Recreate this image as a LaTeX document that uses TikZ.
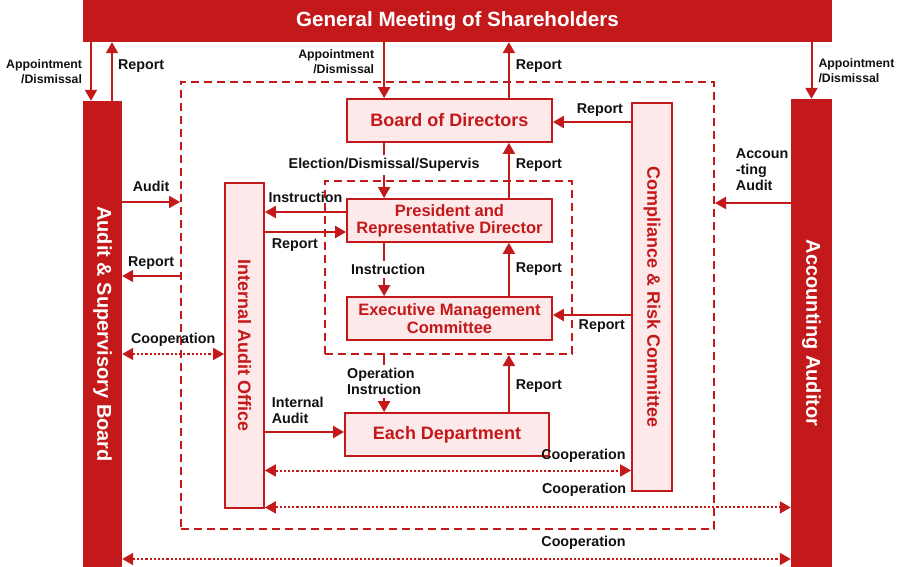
\documentclass[tikz,border=0pt]{standalone}
\usepackage{fontspec}
\setmainfont{Liberation Sans}
\usepackage{graphicx}
\usepackage{tikz}
\usetikzlibrary{arrows.meta,positioning}
\definecolor{cgRed}{HTML}{C4191B}
\definecolor{cgPink}{HTML}{FDE9E9}
\definecolor{cgInk}{HTML}{111111}
\tikzset{
  cg diagram/.style={x=1pt, y=-1pt, font=\bfseries, text=cgInk},
  cg bar/.style={fill=cgRed, text=white, inner sep=0pt,
    font=\bfseries\fontsize{20}{24}\selectfont},
  cg box/.style={draw=cgRed, fill=cgPink, line width=1.8pt, text=cgRed,
    inner sep=0pt, align=center, font=\bfseries\fontsize{16.5}{17.5}\selectfont},
  cg big box/.style={cg box, font=\bfseries\fontsize{18}{21}\selectfont},
  cg frame/.style={draw=cgRed, line width=2pt, dash pattern=on 8pt off 5pt,
    inner sep=0pt},
  cg arrow/.style={-{Triangle[length=11pt,width=12pt]}, draw=cgRed, line width=2pt},
  cg coop/.style={{Triangle[length=11pt,width=12pt]}-{Triangle[length=11pt,width=12pt]},
    draw=cgRed, line width=2pt, dash pattern=on 2.2pt off 2pt},
  cg label/.style={font=\bfseries\fontsize{14.3}{16}\selectfont, text=cgInk, inner sep=1pt},
  cg small/.style={cg label, font=\bfseries\fontsize{12.3}{15.5}\selectfont},
  cg cut/.style={fill=white, inner ysep=3pt}
}

\begin{document}
\begin{tikzpicture}[cg diagram]
\useasboundingbox (0,0) rectangle (898,567);
% frames
\node[cg frame, minimum width=533pt, minimum height=447pt] (outer) at (447.5,305.5) {};
\node[cg frame, minimum width=247pt, minimum height=173pt] (inner) at (448.5,267.5) {};
% bars
\node[cg bar, minimum width=749pt, minimum height=42pt,
  font=\bfseries\fontsize{20.6}{24}\selectfont] (gms) at (457.5,21) {General Meeting of Shareholders};
\node[cg bar, minimum width=39pt, minimum height=466pt] (asb) at (102.5,334) {\rotatebox{-90}{Audit \& Supervisory Board}};
\node[cg bar, minimum width=41pt, minimum height=468pt] (aa) at (811.5,333) {\rotatebox{-90}{Accounting Auditor}};
% boxes
\node[cg big box, minimum width=205pt, minimum height=43pt] (board) at (449.5,120.5) {Board of Directors};
\node[cg box, minimum width=205pt, minimum height=43pt] (pres) at (449.5,220.5) {President and\\Representative Director};
\node[cg box, minimum width=205pt, minimum height=43pt] (exec) at (449.5,318.5) {Executive Management\\Committee};
\node[cg big box, minimum width=204pt, minimum height=43pt] (dept) at (447,434.5) {Each Department};
\node[cg big box, minimum width=39pt, minimum height=325pt] (iao) at (244.5,345.5) {\rotatebox{-90}{Internal Audit Office}};
\node[cg big box, minimum width=40pt, minimum height=388pt] (comp) at (652,297) {\rotatebox{-90}{Compliance \& Risk Committee}};

% shareholders
\draw[cg arrow] ([xshift=-11.5pt]asb.north |- gms.south) -- ([xshift=-11.5pt]asb.north)
  node[midway, left=7pt, cg small, align=right] {Appointment\\/Dismissal};
\draw[cg arrow] ([xshift=9.5pt]asb.north) -- ([xshift=9.5pt]asb.north |- gms.south)
  node[pos=0.6, right=4pt, cg label] {Report};
\draw[cg arrow] ([xshift=38pt]board.north west |- gms.south) -- ([xshift=38pt]board.north west)
  node[pos=0.35, left=8pt, cg small, align=right] {Appointment\\/Dismissal};
\draw[cg arrow] ([xshift=-44pt]board.north east) -- ([xshift=-44pt]board.north east |- gms.south)
  node[pos=0.58, right=5pt, cg label] {Report};
\draw[cg arrow] (aa.north |- gms.south) -- (aa.north)
  node[midway, right=5pt, cg small, align=left] {Appointment\\/Dismissal};

% management line
\draw[cg arrow] ([yshift=-1.5pt]comp.west |- board.east) -- ([yshift=-1.5pt]board.east)
  node[pos=0.4, above=4pt, cg label] {Report};
\draw[cg arrow] ([xshift=38pt]board.south west) -- ([xshift=38pt]pres.north west)
  node[pos=0.4, cg label, cg cut] {Election/Dismissal/Supervis};
\draw[cg arrow] ([xshift=-44pt]pres.north east) -- ([xshift=-44pt]board.south east)
  node[pos=0.6, right=5pt, cg label] {Report};
\draw[cg arrow] ([yshift=8.5pt]pres.west) -- ([yshift=8.5pt]pres.west -| iao.east)
  node[midway, above=7pt, cg label] {Instruction};
\draw[cg arrow] ([yshift=-11.5pt]pres.west -| iao.east) -- ([yshift=-11.5pt]pres.west)
  node[pos=0.37, below=5pt, cg label] {Report};
\draw[cg arrow] ([xshift=38pt]pres.south west) -- ([xshift=38pt]exec.north west)
  node[midway, xshift=4pt, cg label, cg cut] {Instruction};
\draw[cg arrow] ([xshift=-44pt]exec.north east) -- ([xshift=-44pt]pres.south east)
  node[midway, right=5pt, cg label] {Report};
\draw[cg arrow] ([yshift=3.5pt]comp.west |- exec.east) -- ([yshift=3.5pt]exec.east)
  node[pos=0.375, below=3pt, cg label] {Report};
\draw[cg arrow] ([xshift=38pt]exec.south west |- inner.south) -- ([xshift=40pt]dept.north west)
  node[pos=0.46, cg label, cg cut, align=left] {Operation\\Instruction};
\draw[cg arrow] ([xshift=-41pt]dept.north east) -- ([xshift=-41pt]dept.north east |- inner.south)
  node[pos=0.46, right=5pt, cg label] {Report};
\draw[cg arrow] ([yshift=2.5pt]dept.west -| iao.east) -- ([yshift=2.5pt]dept.west)
  node[pos=0, above=6pt, anchor=south west, xshift=5pt, cg label, align=left] {Internal\\Audit};

% auditors
\draw[cg arrow] ([yshift=132pt]asb.east) -- ([yshift=132pt]asb.east -| outer.west)
  node[midway, above=8pt, cg label] {Audit};
\draw[cg arrow] ([yshift=58pt]asb.east -| outer.west) -- ([yshift=58pt]asb.east)
  node[midway, above=5pt, cg label] {Report};
\draw[cg arrow] ([yshift=130pt]aa.west) -- ([yshift=130pt]aa.west -| outer.east)
  node[pos=0.75, above=10pt, anchor=south west, cg label, align=left] {Accoun\\-ting\\Audit};

% cooperation
\draw[cg coop] ([yshift=-20pt]asb.east) -- ([yshift=-20pt]asb.east -| iao.west)
  node[midway, above=6pt, cg label] {Cooperation};
\draw[cg coop] ([yshift=-125pt]iao.east) -- ([yshift=-125pt]iao.east -| comp.west)
  node[pos=0.87, above=6pt, cg label] {Cooperation};
\draw[cg coop] ([yshift=1.5pt]iao.south east) -- ([yshift=1.5pt]iao.south east -| aa.west)
  node[pos=0.607, above=9pt, cg label] {Cooperation};
\draw[cg coop] ([yshift=-225pt]asb.east) -- ([yshift=-225pt]asb.east -| aa.west)
  node[pos=0.69, above=8pt, cg label] {Cooperation};
\end{tikzpicture}
\end{document}
